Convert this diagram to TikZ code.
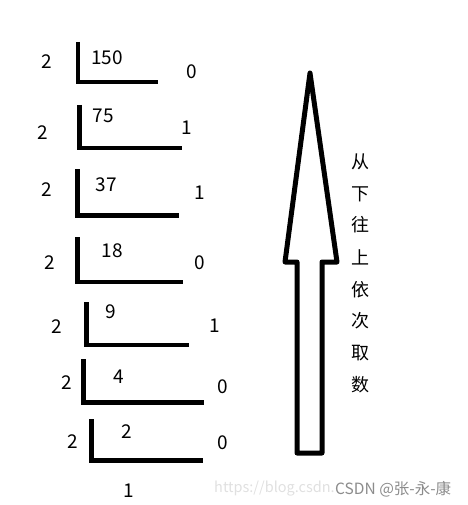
\documentclass[tikz,border=0pt]{standalone}
\usepackage{fontspec}
\setmainfont{Noto Sans CJK SC}
\begin{document}
\begin{tikzpicture}[x=1pt,y=-1pt,
  bar/.style={line width=4.5pt,line cap=butt,line join=miter},
  num/.style={inner sep=0pt,font=\fontsize{19}{22}\selectfont},
  hz/.style={inner sep=0pt,font=\fontsize{18}{20}\selectfont},
  wm/.style={inner sep=0pt,anchor=west,font=\fontsize{15.5}{17}\selectfont}]
\useasboundingbox (0,0) rectangle (467,505);
% division brackets
\draw[bar] (78,42) |- (158,82);
\draw[bar] (79.5,105) |- (182,148);
\draw[bar] (77.5,169) |- (179,215.5);
\draw[bar] (77.5,237) |- (183,282);
\draw[bar] (86.5,302) |- (189,345);
\draw[bar] (83.5,359) |- (204,402.5);
\draw[bar] (91.5,419) |- (203,460.5);
% dividends
\node[num] (q1) at (107,58) {150};
\node[num] (q2) at (103.5,116) {75};
\node[num] (q3) at (106,185) {37};
\node[num] (q4) at (112,251) {18};
\node[num] (q5) at (110.5,312) {9};
\node[num] (q6) at (119,377) {4};
\node[num] (q7) at (127,432) {2};
% divisors
\node[num] (d1) at (47,62) {2};
\node[num] (d2) at (43,133) {2};
\node[num] (d3) at (47,190) {2};
\node[num] (d4) at (50,263) {2};
\node[num] (d5) at (57,327) {2};
\node[num] (d6) at (67,383) {2};
\node[num] (d7) at (73,442) {2};
% remainders
\node[num] (r1) at (192,72) {0};
\node[num] (r2) at (186.5,128) {1};
\node[num] (r3) at (200,193) {1};
\node[num] (r4) at (200,263) {0};
\node[num] (r5) at (214.5,326) {1};
\node[num] (r6) at (223,387) {0};
\node[num] (r7) at (223,443) {0};
\node[num] (last) at (128.5,491) {1};
% big arrow
\draw[line width=5pt,line join=round]
  (310,73) -- (337,262) -- (322,262) -- (322,453) -- (297,453) -- (297,262) -- (285,262) -- cycle;
% vertical text
\node[hz] (c1) at (360,162) {从};
\node[hz] (c2) at (360,194) {下};
\node[hz] (c3) at (360,225) {往};
\node[hz] (c4) at (360,257) {上};
\node[hz] (c5) at (360,290) {依};
\node[hz] (c6) at (360,321) {次};
\node[hz] (c7) at (360,353) {取};
\node[hz] (c8) at (360,385) {数};
% watermark
\node[wm,text=black!12,font=\fontsize{14.5}{16}\selectfont] (w1) at (214,489) {https://blog.csdn.};
\node[wm,text=black!45] (w2) at (335,489) {CSDN @张-永-康};
\end{tikzpicture}
\end{document}
